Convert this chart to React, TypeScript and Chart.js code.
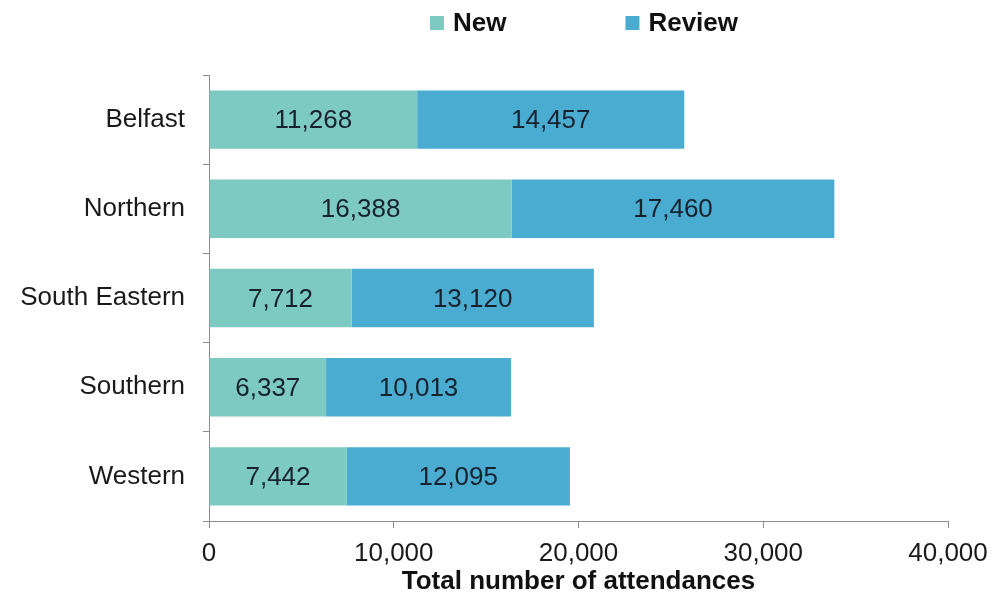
import React, { useEffect, useRef } from "react";
import { Chart, registerables } from "chart.js";

Chart.register(...registerables);

const categories = ["Belfast", "Northern", "South Eastern", "Southern", "Western"];
const newValues = [11268, 16388, 7712, 6337, 7442];
const reviewValues = [14457, 17460, 13120, 10013, 12095];
const seriesLabels = ["New", "Review"];
const seriesColors = ["#7dcac2", "#4aacd1"];
const xMin = 0;
const xMax = 40000;
const xStep = 10000;
const xTitle = "Total number of attendances";

const FONT = '"Liberation Sans", Arial, Helvetica, sans-serif';
const TEXT = "#1a1a1a";
const AXIS = "#8c8c8c";

const fmt = (v: number) => Number(v).toLocaleString("en-US");

const valueLabels = {
  id: "valueLabels",
  afterDatasetsDraw(chart: any) {
    const ctx = chart.ctx;
    ctx.save();
    ctx.font = `26px ${FONT}`;
    ctx.fillStyle = "#18222c";
    ctx.textAlign = "center";
    ctx.textBaseline = "alphabetic";
    chart.data.datasets.forEach((ds: any, i: number) => {
      const meta = chart.getDatasetMeta(i);
      meta.data.forEach((bar: any, j: number) => {
        const p = bar.getProps(["x", "y", "base"], true);
        ctx.fillText(fmt(ds.data[j]), (p.x + p.base) / 2, p.y + 8.5);
      });
    });
    ctx.restore();
  },
};

const topLegend = {
  id: "topLegend",
  afterDraw(chart: any) {
    const ctx = chart.ctx;
    ctx.save();
    ctx.font = `bold 26px ${FONT}`;
    ctx.textBaseline = "alphabetic";
    ctx.textAlign = "left";
    const box = 14;
    const gapText = 9;
    const gapItem = 119;
    const items = chart.data.datasets.map((ds: any) => ({
      label: ds.label,
      color: ds.backgroundColor,
      w: ctx.measureText(ds.label).width,
    }));
    const total =
      items.reduce((s: number, it: any) => s + box + gapText + it.w, 0) +
      gapItem * (items.length - 1);
    let x = 584 - total / 2;
    const baseline = 31;
    items.forEach((it: any) => {
      ctx.fillStyle = it.color;
      ctx.fillRect(x, 16, box, box);
      x += box + gapText;
      ctx.fillStyle = "#111";
      ctx.fillText(it.label, x, baseline);
      x += it.w + gapItem;
    });
    ctx.restore();
  },
};

export default function App() {
  const ref = useRef<HTMLCanvasElement | null>(null);

  useEffect(() => {
    if (!ref.current) return;
    const chart = new Chart(ref.current, {
      type: "bar",
      data: {
        labels: categories,
        datasets: [
          {
            label: seriesLabels[0],
            data: newValues,
            backgroundColor: seriesColors[0],
            borderWidth: 0,
            categoryPercentage: 1,
            barPercentage: 0.655,
          },
          {
            label: seriesLabels[1],
            data: reviewValues,
            backgroundColor: seriesColors[1],
            borderWidth: 0,
            categoryPercentage: 1,
            barPercentage: 0.655,
          },
        ],
      },
      options: {
        indexAxis: "y",
        responsive: false,
        animation: false,
        layout: { padding: { top: 75, right: 45, left: 0, bottom: 0 } },
        plugins: {
          legend: { display: false },
          tooltip: { enabled: false },
        },
        scales: {
          x: {
            stacked: true,
            min: xMin,
            max: xMax,
            ticks: {
              stepSize: xStep,
              callback: (v: any) => fmt(v),
              font: { family: FONT, size: 26 },
              color: TEXT,
              padding: 10,
              maxRotation: 0,
            },
            grid: {
              drawOnChartArea: false,
              drawTicks: true,
              tickLength: 7,
              color: AXIS,
            },
            border: { display: true, color: AXIS, width: 1 },
            title: {
              display: true,
              text: xTitle,
              font: { family: FONT, size: 26, weight: "bold" },
              color: "#111",
              padding: { top: 0, bottom: 5 },
            },
            afterFit: (s: any) => {
              s.height = 81;
              s.paddingRight = 0;
              s.paddingLeft = 0;
            },
          },
          y: {
            stacked: true,
            ticks: {
              font: { family: FONT, size: 26 },
              color: TEXT,
              padding: 18,
            },
            grid: {
              drawOnChartArea: false,
              drawTicks: true,
              tickLength: 6,
              color: AXIS,
              offset: true,
            },
            border: { display: true, color: AXIS, width: 1 },
            afterFit: (s: any) => {
              s.width = 209;
            },
          },
        },
      },
      plugins: [valueLabels, topLegend],
    } as any);
    return () => chart.destroy();
  }, []);

  return (
    <div style={{ position: "absolute", left: 0, top: 0, width: 993, height: 602, background: "#fff" }}>
      <canvas ref={ref} width={993} height={602} />
    </div>
  );
}
